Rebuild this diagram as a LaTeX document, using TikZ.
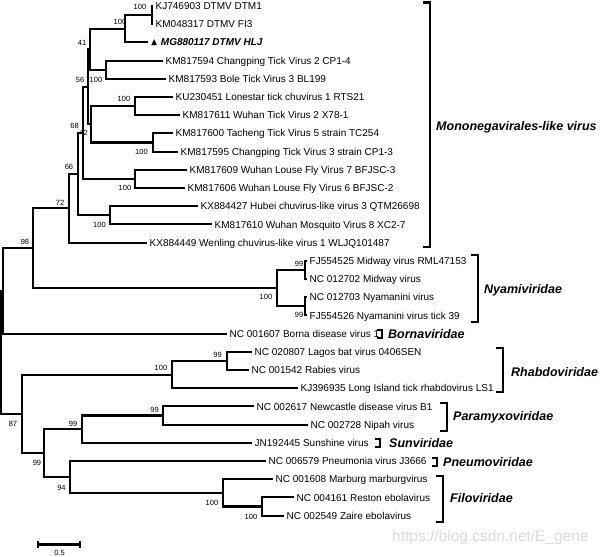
\documentclass[tikz,border=0pt]{standalone}
\usepackage{fontspec}
\setmainfont{Liberation Sans}
\usepackage{amssymb}

\begin{document}
\begin{tikzpicture}[x=1pt,y=-1pt,
    leaf/.style={anchor=west,inner xsep=2.5pt,inner ysep=0pt,text height=7.2pt,text depth=0pt,font=\fontsize{10}{12}\selectfont},
    boot/.style={inner sep=0pt,font=\fontsize{7.5}{9}\selectfont},
    family/.style={anchor=west,inner sep=0pt,text height=9pt,text depth=0pt,font=\fontsize{12.5}{15}\selectfont\bfseries\itshape},
    branch/.style={line width=2.1pt},
    bracket/.style={line width=2.3pt}]
          \useasboundingbox (0,0) rectangle (601,556);
          % leaves
          \node[leaf] (dtm1)   at (153,   6.0) {KJ746903 DTMV DTM1};
          \node[leaf] (fi3)    at (153,  24.2) {KM048317 DTMV FI3};
          \node[leaf] (hlj)    at (148,  42.4) {$\blacktriangle$\hspace{3pt}\textbf{\textit{MG880117 DTMV HLJ}}};
          \node[leaf] (cp14)   at (163,  60.6) {KM817594 Changping Tick Virus 2 CP1-4};
          \node[leaf] (bl199)  at (166,  78.8) {KM817593 Bole Tick Virus 3 BL199};
          \node[leaf] (rts21)  at (173,  97.0) {KU230451 Lonestar tick chuvirus 1 RTS21};
          \node[leaf] (x781)   at (180, 115.2) {KM817611 Wuhan Tick Virus 2 X78-1};
          \node[leaf] (tc254)  at (173, 133.4) {KM817600 Tacheng Tick Virus 5 strain TC254};
          \node[leaf] (cp13)   at (178, 151.6) {KM817595 Changping Tick Virus 3 strain CP1-3};
          \node[leaf] (bfjsc3) at (187, 169.8) {KM817609 Wuhan Louse Fly Virus 7 BFJSC-3};
          \node[leaf] (bfjsc2) at (185, 188.0) {KM817606 Wuhan Louse Fly Virus 6 BFJSC-2};
          \node[leaf] (qtm)    at (198, 206.2) {KX884427 Hubei chuvirus-like virus 3 QTM26698};
          \node[leaf] (xc27)   at (212, 224.4) {KM817610 Wuhan Mosquito Virus 8 XC2-7};
          \node[leaf] (wljq)   at (147, 242.6) {KX884449 Wenling chuvirus-like virus 1 WLJQ101487};
          \node[leaf] (rml)    at (307, 260.8) {FJ554525 Midway virus RML47153};
          \node[leaf] (midway) at (307, 279.0) {NC 012702 Midway virus};
          \node[leaf] (nyaman) at (307, 297.2) {NC 012703 Nyamanini virus};
          \node[leaf] (tick39) at (307, 315.4) {FJ554526 Nyamanini virus tick 39};
          \node[leaf] (borna)  at (227, 333.6) {NC 001607 Borna disease virus 1};
          \node[leaf] (lagos)  at (252, 351.8) {NC 020807 Lagos bat virus 0406SEN};
          \node[leaf] (rabies) at (249, 370.0) {NC 001542 Rabies virus};
          \node[leaf] (ls1)    at (298, 388.2) {KJ396935 Long Island tick rhabdovirus LS1};
          \node[leaf] (ndv)    at (254, 406.4) {NC 002617 Newcastle disease virus B1};
          \node[leaf] (nipah)  at (308, 424.6) {NC 002728 Nipah virus};
          \node[leaf] (sun)    at (252, 442.8) {JN192445 Sunshine virus};
          \node[leaf] (pneumo) at (266, 461.0) {NC 006579 Pneumonia virus J3666};
          \node[leaf] (marv)   at (273, 479.2) {NC 001608 Marburg marburgvirus};
          \node[leaf] (restv)  at (294, 497.4) {NC 004161 Reston ebolavirus};
          \node[leaf] (ebov)   at (284, 515.6) {NC 002549 Zaire ebolavirus};
          % inner nodes
          \coordinate (dtmv)     at (152,  15.1);
          \coordinate (dtmvall)  at (125,  28.75);
          \coordinate (cptv)     at (106,  69.7);
          \coordinate (wtv)      at (135, 106.1);
          \coordinate (tctv)     at (153, 142.5);
          \coordinate (wlfv)     at (135, 178.9);
          \coordinate (wmv)      at (110, 215.3);
          \coordinate (n41)      at (90,   49.2);
          \coordinate (n42)      at (91,  124.3);
          \coordinate (n56)      at (88,   86.75);
          \coordinate (n68)      at (83,  132.8);
          \coordinate (n66)      at (78,  174.05);
          \coordinate (n72)      at (69,  208.3);
          \coordinate (midw)     at (305, 269.9);
          \coordinate (nyam)     at (305, 306.3);
          \coordinate (nyami)    at (277, 288.1);
          \coordinate (n98)      at (33,  248.2);
          \coordinate (n0)       at (3,   290.9);
          \coordinate (lyssa)    at (227, 360.9);
          \coordinate (rhabdo)   at (172, 374.55);
          \coordinate (paramyxo) at (163, 415.5);
          \coordinate (n99a)     at (82,  429.15);
          \coordinate (ebola)    at (262, 506.5);
          \coordinate (filo)     at (223, 492.85);
          \coordinate (n94)      at (70,  476.9);
          \coordinate (n99b)     at (44,  453.0);
          \coordinate (n87)      at (22,  413.8);
          \coordinate (root)     at (1.3, 352.35);
          % branches
          \draw[branch] (dtm1.west) -| (dtmv) |- (fi3.west);
          \draw[branch] (dtmv) -| (dtmvall) |- (hlj.west);
          \draw[branch] (cp14.west) -| (cptv) |- (bl199.west);
          \draw[branch] (rts21.west) -| (wtv) |- (x781.west);
          \draw[branch] (tc254.west) -| (tctv) |- (cp13.west);
          \draw[branch] (bfjsc3.west) -| (wlfv) |- (bfjsc2.west);
          \draw[branch] (qtm.west) -| (wmv) |- (xc27.west);
          \draw[branch] (dtmvall) -| (n41) |- (cptv);
          \draw[branch] (wtv) -| (n42) |- (tctv);
          \draw[branch] (n41) -| (n56) |- (n42);
          \draw[branch] (n56) -| (n68) |- (wlfv);
          \draw[branch] (n68) -| (n66) |- (wmv);
          \draw[branch] (n66) -| (n72) |- (wljq.west);
          \draw[branch] (rml.west) -| (midw) |- (midway.west);
          \draw[branch] (nyaman.west) -| (nyam) |- (tick39.west);
          \draw[branch] (midw) -| (nyami) |- (nyam);
          \draw[branch] (n72) -| (n98) |- (nyami);
          \draw[branch] (n98) -| (n0) |- (borna.west);
          \draw[branch] (lagos.west) -| (lyssa) |- (rabies.west);
          \draw[branch] (lyssa) -| (rhabdo) |- (ls1.west);
          \draw[branch] (ndv.west) -| (paramyxo) |- (nipah.west);
          \draw[branch] (paramyxo) -| (n99a) |- (sun.west);
          \draw[branch] (restv.west) -| (ebola) |- (ebov.west);
          \draw[branch] (marv.west) -| (filo) |- (ebola);
          \draw[branch] (pneumo.west) -| (n94) |- (filo);
          \draw[branch] (n99a) -| (n99b) |- (n94);
          \draw[branch] (rhabdo) -| (n87) |- (n99b);
          \draw[branch] (n0) -| (root) |- (n87);
          % bootstrap values
          \node[boot] (b-dtmv)     at (140,   7.0) {100};
          \node[boot] (b-dtmvall)  at (120,  22.0) {100};
          \node[boot] (b-n41)      at (82,   42.5) {41};
          \node[boot] (b-n56)      at (80,   80.0) {56};
          \node[boot] (b-cptv)     at (96,   79.5) {100};
          \node[boot] (b-wtv)      at (124,  99.0) {100};
          \node[boot] (b-n68)      at (74.5, 126.0) {68};
          \node[boot] (b-n42)      at (83.5, 133.0) {42};
          \node[boot] (b-tctv)     at (141.5,152.0) {100};
          \node[boot] (b-n66)      at (69,  166.5) {66};
          \node[boot] (b-wlfv)     at (125, 188.0) {100};
          \node[boot] (b-n72)      at (60,  203.0) {72};
          \node[boot] (b-wmv)      at (99.5,225.0) {100};
          \node[boot] (b-n98)      at (25,  242.0) {98};
          \node[boot] (b-midw)     at (299, 263.5) {99};
          \node[boot] (b-nyami)    at (266, 297.0) {100};
          \node[boot] (b-nyam)     at (299, 315.0) {99};
          \node[boot] (b-lyssa)    at (217.5,355.0) {99};
          \node[boot] (b-rhabdo)   at (161, 367.5) {100};
          \node[boot] (b-n87)      at (13,  424.0) {87};
          \node[boot] (b-paramyxo) at (154.5,409.5) {99};
          \node[boot] (b-n99a)     at (73,  424.0) {99};
          \node[boot] (b-n99b)     at (37,  463.0) {99};
          \node[boot] (b-n94)      at (61.5,487.5) {94};
          \node[boot] (b-filo)     at (212, 502.5) {100};
          \node[boot] (b-ebola)    at (251, 516.5) {100};
          % families
          \node[family] (mono)   at (436, 126) {Mononegavirales-like virus};
          \node[family] (nyamiv) at (484, 289) {Nyamiviridae};
          \node[family] (bornav) at (388, 334) {Bornaviridae};
          \node[family] (rhabdv) at (511, 372) {Rhabdoviridae};
          \node[family] (paramv) at (453, 416) {Paramyxoviridae};
          \node[family] (sunv)   at (389, 443) {Sunviridae};
          \node[family] (pneumv) at (443, 462) {Pneumoviridae};
          \node[family] (filov)  at (450, 498) {Filoviridae};
          \draw[bracket] (423,2.5) -| (430,247) -- (423,247);
          \draw[bracket] (471,255) -| (478,322) -- (471,322);
          \draw[bracket] (377,330) -| (382,338) -- (377,338);
          \draw[bracket] (496,348) -| (503,392) -- (496,392);
          \draw[bracket] (440,403) -| (447,431) -- (440,431);
          \draw[bracket] (375,439) -| (380,447) -- (375,447);
          \draw[bracket] (432,458) -| (437,466) -- (432,466);
          \draw[bracket] (436,476) -| (443,522) -- (436,522);
          % scale bar
          \coordinate (sb0) at (38,544.5);
          \coordinate (sb1) at (80,544.5);
          \draw[branch] (sb0) -- (sb1);
          \draw[branch] ([yshift=3.5pt]sb0) -- ([yshift=-3.5pt]sb0);
          \draw[branch] ([yshift=3.5pt]sb1) -- ([yshift=-3.5pt]sb1);
          \node[boot] (sblabel) at (59.5,552.5) {0.5};
          \node[anchor=west,inner sep=0pt,text=black!14,font=\fontsize{15.5}{18}\selectfont] (mark) at (392,537) {https://blog.csdn.net/E\_gene};
        \end{tikzpicture}
\end{document}
